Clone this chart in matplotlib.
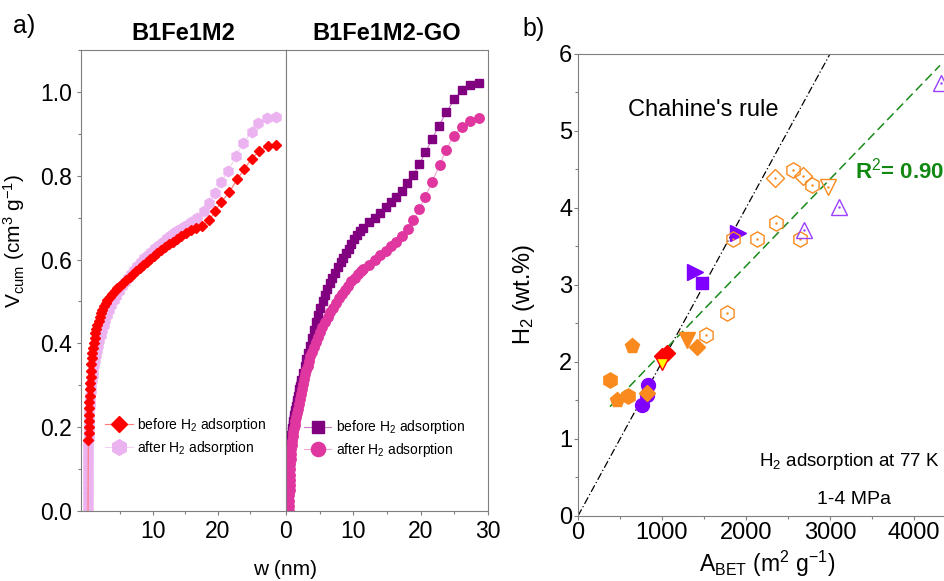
import matplotlib
matplotlib.use("Agg")
import matplotlib.pyplot as plt
from matplotlib.ticker import MultipleLocator, FixedLocator

plt.rcParams['font.family'] = ['Liberation Sans', 'DejaVu Sans']
plt.rcParams['mathtext.fontset'] = 'custom'
plt.rcParams['mathtext.rm'] = 'Liberation Sans'
plt.rcParams['mathtext.it'] = 'Liberation Sans:italic'
plt.rcParams['mathtext.bf'] = 'Liberation Sans:bold'

# ---- pore size distributions (cumulative pore volume vs pore width) ----
w_b1_before = [0.00, 0.05, 0.08, 0.11, 0.14, 0.17, 0.20, 0.23, 0.27, 0.31, 0.35, 0.40, 0.46, 0.52,
               0.60, 0.68, 0.78, 0.90, 1.02, 1.15, 1.30, 1.45, 1.62, 1.80, 2.00, 2.20, 2.45, 2.70,
               3.00, 3.35, 3.70, 4.10, 4.50, 4.95, 5.40, 5.90, 6.40, 6.90, 7.40, 7.95, 8.50, 9.05,
               9.60, 10.15, 10.70, 11.30, 11.90, 12.50, 13.10, 13.75, 14.40, 15.10, 15.80, 16.70,
               17.60, 18.70, 19.60, 20.50, 21.80, 23.00, 24.10, 25.20, 26.40, 27.80, 29.00]
v_b1_before = [0.000, 0.170, 0.185, 0.200, 0.215, 0.230, 0.245, 0.260, 0.275, 0.290, 0.305, 0.320,
               0.335, 0.350, 0.365, 0.378, 0.390, 0.402, 0.413, 0.424, 0.434, 0.444, 0.454, 0.463,
               0.472, 0.480, 0.488, 0.496, 0.503, 0.510, 0.517, 0.524, 0.531, 0.538, 0.545, 0.552,
               0.559, 0.566, 0.573, 0.580, 0.587, 0.594, 0.601, 0.608, 0.615, 0.622, 0.629, 0.636,
               0.643, 0.650, 0.657, 0.664, 0.671, 0.676, 0.679, 0.694, 0.715, 0.737, 0.761, 0.792,
               0.816, 0.840, 0.859, 0.871, 0.873]

w_b1_after = [0.00, 0.00, 0.00, 0.00, 0.00, 0.01, 0.01, 0.01, 0.02, 0.02, 0.03, 0.04, 0.05, 0.06,
              0.08, 0.10, 0.12, 0.15, 0.18, 0.22, 0.27, 0.32, 0.38, 0.45, 0.53, 0.62, 0.72, 0.83,
              0.95, 1.08, 1.22, 1.38, 1.55, 1.73, 1.93, 2.15, 2.40, 2.65, 2.95, 3.25, 3.60, 3.95,
              4.35, 4.75, 5.20, 5.65, 6.10, 6.60, 7.10, 7.60, 8.10, 8.65, 9.20, 9.75, 10.30, 10.90,
              11.50, 12.10, 12.75, 13.40, 14.10, 14.90, 15.80, 16.80, 17.80, 18.70, 19.60, 20.50,
              21.60, 22.80, 23.90, 25.20, 26.20, 27.60, 29.00]
v_b1_after = [0.000, 0.012, 0.025, 0.037, 0.050, 0.062, 0.075, 0.087, 0.100, 0.112, 0.125, 0.137,
              0.150, 0.162, 0.175, 0.187, 0.200, 0.212, 0.225, 0.237, 0.250, 0.262, 0.275, 0.287,
              0.300, 0.312, 0.324, 0.336, 0.348, 0.360, 0.372, 0.384, 0.396, 0.408, 0.420, 0.432,
              0.444, 0.456, 0.468, 0.480, 0.492, 0.503, 0.514, 0.525, 0.536, 0.546, 0.556, 0.566,
              0.576, 0.585, 0.594, 0.603, 0.611, 0.619, 0.627, 0.635, 0.643, 0.651, 0.659, 0.666,
              0.673, 0.681, 0.690, 0.699, 0.715, 0.734, 0.758, 0.785, 0.811, 0.847, 0.878, 0.904,
              0.926, 0.938, 0.940]

w_go_before = [0.20, 0.21, 0.22, 0.235, 0.25, 0.27, 0.30, 0.33, 0.36, 0.40, 0.43, 0.47, 0.51, 0.555,
               0.60, 0.66, 0.72, 0.78, 0.85, 0.92, 1.00, 1.08, 1.15, 1.22, 1.30, 1.40, 1.50, 1.60,
               1.70, 1.80, 1.90, 2.00, 2.10, 2.20, 2.30, 2.55, 2.80, 3.05, 3.30, 3.60, 3.90, 4.20,
               4.50, 4.80, 5.10, 5.45, 5.80, 6.15, 6.50, 6.90, 7.30, 7.70, 8.10, 8.50, 8.90, 9.30,
               9.70, 10.10, 10.50, 11.00, 11.50, 12.40, 13.20, 14.00, 14.90, 15.60, 16.40, 17.20,
               18.00, 18.90, 19.80, 20.70, 21.70, 22.70, 23.80, 25.00, 26.20, 27.40, 28.70]
v_go_before = [0.000, 0.0125, 0.025, 0.0375, 0.050, 0.062, 0.074, 0.085, 0.095, 0.105, 0.115, 0.125,
               0.135, 0.144, 0.153, 0.163, 0.172, 0.181, 0.190, 0.199, 0.208, 0.215, 0.222, 0.228,
               0.234, 0.242, 0.250, 0.258, 0.266, 0.274, 0.282, 0.290, 0.298, 0.306, 0.313, 0.330,
               0.346, 0.362, 0.378, 0.393, 0.412, 0.432, 0.450, 0.468, 0.485, 0.500, 0.515, 0.530,
               0.545, 0.557, 0.569, 0.581, 0.593, 0.604, 0.615, 0.626, 0.637, 0.648, 0.658, 0.667,
               0.676, 0.690, 0.700, 0.712, 0.725, 0.738, 0.750, 0.763, 0.782, 0.801, 0.827, 0.856,
               0.887, 0.919, 0.951, 0.982, 1.005, 1.017, 1.021]

w_go_after = [0.50, 0.505, 0.51, 0.52, 0.535, 0.55, 0.575, 0.60, 0.63, 0.66, 0.70, 0.75, 0.80, 0.86,
              0.93, 1.00, 1.08, 1.17, 1.27, 1.38, 1.50, 1.62, 1.75, 1.90, 2.05, 2.20, 2.35, 2.50,
              2.65, 2.82, 3.00, 3.20, 3.40, 3.60, 3.85, 4.10, 4.40, 4.70, 5.05, 5.40, 5.80, 6.20,
              6.60, 7.00, 7.45, 7.90, 8.35, 8.80, 9.25, 9.70, 10.20, 10.70, 11.10, 11.50, 12.40,
              13.20, 14.00, 14.80, 15.60, 16.40, 17.20, 18.10, 18.90, 19.80, 20.70, 21.70, 22.80,
              23.80, 24.90, 26.20, 27.40, 28.70]
v_go_after = [0.000, 0.0125, 0.025, 0.0375, 0.050, 0.062, 0.074, 0.087, 0.100, 0.112, 0.125, 0.137,
              0.148, 0.158, 0.168, 0.178, 0.188, 0.197, 0.206, 0.215, 0.225, 0.234, 0.244, 0.256,
              0.268, 0.280, 0.292, 0.304, 0.316, 0.326, 0.336, 0.347, 0.358, 0.369, 0.380, 0.391,
              0.403, 0.415, 0.428, 0.440, 0.451, 0.463, 0.474, 0.485, 0.496, 0.507, 0.518, 0.528,
              0.538, 0.548, 0.557, 0.565, 0.572, 0.578, 0.588, 0.600, 0.610, 0.620, 0.632, 0.643,
              0.656, 0.672, 0.694, 0.720, 0.750, 0.785, 0.825, 0.862, 0.895, 0.917, 0.931, 0.937]

# ---- H2 uptake vs BET surface area ----
a_or_pent = [643, 470]
h_or_pent = [2.21, 1.50]
a_or_hex = [381, 590]
h_or_hex = [1.77, 1.56]
a_or_dia = [821, 1417]
h_or_dia = [1.60, 2.19]
a_or_tri = [1298]
h_or_tri = [2.29]
a_pu_circ = [833, 821, 762]
h_pu_circ = [1.70, 1.57, 1.44]
a_pu_rtri = [1905, 1393]
h_pu_rtri = [3.67, 3.17]
a_pu_sq = [1476]
h_pu_sq = [3.03]
a_red = [1000, 1060]
h_red = [2.08, 2.12]
a_yel = [1005]
h_yel = [1.97]
a_open_hex = [1524, 1774, 1845, 2131, 2357, 2643, 2560, 2786]
h_open_hex = [2.35, 2.64, 3.60, 3.60, 3.80, 3.60, 4.49, 4.30]
a_open_dia = [2340, 2679]
h_open_dia = [4.39, 4.41]
a_open_vtri = [2976]
h_open_vtri = [4.27]
a_open_utri = [2690, 3107, 4321]
h_open_utri = [3.71, 4.01, 5.62]

chahine_a = [0, 3000]
chahine_h = [0, 6]
fit_a = [381, 4310]
fit_slope = 0.001128
fit_icpt = 0.99

orange = '#FA8A1E'
violet = '#8000FF'
violet_open = '#9B40FF'
gray = '#7F7F7F'

fig = plt.figure(figsize=(9.45, 5.81), dpi=100)
ax1 = fig.add_axes([0.0857, 0.1205, 0.2169, 0.7935])
ax2 = fig.add_axes([0.3026, 0.1205, 0.2138, 0.7935])
ax3 = fig.add_axes([0.6116, 0.1119, 0.4000, 0.7952])

ax1.plot(w_b1_before, v_b1_before, '-', color='#FF7A7A', lw=0.8, marker='D', ms=5.2,
         mfc='red', mec='red', markevery=range(1, len(w_b1_before)), label='before H$_2$ adsorption')
ax1.plot(w_b1_after, v_b1_after, '-', color='#F4D2F6', lw=0.8, marker='h', ms=7.5,
         mfc='#EBB3EF', mec='#EBB3EF', label='after H$_2$ adsorption', zorder=1)
ax2.plot(w_go_before, v_go_before, '-', color='#C77DC7', lw=0.8, marker='s', ms=5.8,
         mfc='#800080', mec='#800080', label='before H$_2$ adsorption')
ax2.plot(w_go_after, v_go_after, '-', color='#F2A6D6', lw=0.8, marker='o', ms=6.8,
         mfc='#DF379F', mec='#DF379F', label='after H$_2$ adsorption')

for ax in (ax1, ax2):
    ax.set_ylim(0, 1.1)
    for s in ax.spines.values():
        s.set_color(gray)
        s.set_linewidth(0.8)
    ax.tick_params(which='both', direction='out', color=gray, labelsize=16.5, width=0.8)
    ax.tick_params(which='major', length=3)
    ax.tick_params(which='minor', length=2)
    ax.legend(loc='lower left', frameon=False, fontsize=10, handlelength=2.0,
              handletextpad=0.3, labelspacing=0.35, markerscale=1.5, borderaxespad=0)

ax1.set_xlim(-1.08, 30.5)
ax1.xaxis.set_major_locator(FixedLocator([10, 20]))
ax1.xaxis.set_minor_locator(FixedLocator([5, 15, 25]))
ax1.yaxis.set_major_locator(MultipleLocator(0.2))
ax1.yaxis.set_minor_locator(MultipleLocator(0.1))
ax1.set_yticklabels(['%.1f' % t for t in ax1.get_yticks()])
ax1.set_ylabel('V$_{\\mathrm{cum}}$ (cm$^3$ g$^{-1}$)', fontsize=15)
ax1.yaxis.set_label_coords(-0.265, 0.585)
ax1.set_title('B1Fe1M2', fontsize=17, fontweight='bold', pad=7)
ax1.get_legend().set_bbox_to_anchor((0.09, 0.105))

ax2.set_xlim(0, 30)
ax2.xaxis.set_major_locator(MultipleLocator(10))
ax2.xaxis.set_minor_locator(MultipleLocator(5))
ax2.tick_params(axis='y', which='both', left=False, labelleft=False)
ax2.set_title('B1Fe1M2-GO', fontsize=17, fontweight='bold', pad=7)
ax2.get_legend().set_bbox_to_anchor((0.06, 0.10))

fig.text(0.3016, 0.003, 'w (nm)', fontsize=15, ha='center', va='bottom')
fig.text(0.014, 0.955, 'a)', fontsize=18, ha='left', va='center')
fig.text(0.553, 0.950, 'b)', fontsize=18, ha='left', va='center')

# right panel: guide lines
ax3.plot(chahine_a, chahine_h, color='black', ls=(0, (6, 2, 1, 2)), lw=0.9, zorder=1)
fit_h = [fit_icpt + fit_slope * a for a in fit_a]
ax3.plot(fit_a, fit_h, color='#1A8A1A', ls=(0, (6, 3)), lw=1.1, zorder=1)

# filled symbols
ax3.plot(a_or_pent, h_or_pent, 'p', ms=11, color=orange, mec=orange)
ax3.plot(a_or_hex, h_or_hex, 'h', ms=11, color=orange, mec=orange)
ax3.plot(a_pu_circ, h_pu_circ, 'o', ms=10, color=violet, mec=violet)
ax3.plot(a_or_dia, h_or_dia, 'D', ms=8.5, color=orange, mec=orange)
ax3.plot(a_or_tri, h_or_tri, 'v', ms=11, color=orange, mec=orange)
ax3.plot(a_pu_rtri, h_pu_rtri, '>', ms=11, color=violet, mec=violet)
ax3.plot(a_pu_sq, h_pu_sq, 's', ms=9, color=violet, mec=violet)
ax3.plot(a_red, h_red, 'D', ms=8.5, color='red', mec='red')
ax3.plot(a_yel, h_yel, 'v', ms=9, color='#FFFF00', mec='red', mew=1.0)

# open symbols with centre dot
open_sets = [(a_open_hex, h_open_hex, 'h', orange),
             (a_open_dia, h_open_dia, 'D', orange),
             (a_open_vtri, h_open_vtri, 'v', orange),
             (a_open_utri, h_open_utri, '^', violet_open)]
for xs, ys, m, c in open_sets:
    ax3.plot(xs, ys, m, ms=11 if m != 'D' else 9, mfc='none', mec=c, mew=1.0)
    ax3.plot(xs, ys, '.', ms=1.5, color=c)

ax3.set_xlim(0, 4500)
ax3.set_ylim(0, 6)
ax3.xaxis.set_major_locator(MultipleLocator(1000))
ax3.xaxis.set_minor_locator(MultipleLocator(500))
ax3.yaxis.set_major_locator(MultipleLocator(1))
ax3.yaxis.set_minor_locator(MultipleLocator(0.5))
for s in ax3.spines.values():
    s.set_color(gray)
    s.set_linewidth(0.8)
ax3.tick_params(which='both', direction='out', color=gray, labelsize=17, width=0.8, pad=1)
ax3.tick_params(which='major', length=3)
ax3.tick_params(which='minor', length=2)
ax3.set_xlabel('A$_{\\mathrm{BET}}$ (m$^2$ g$^{-1}$)', fontsize=16.5)
ax3.xaxis.set_label_coords(0.5, -0.07)
ax3.set_ylabel('H$_2$ (wt.%)', fontsize=17)
ax3.yaxis.set_label_coords(-0.108, 0.48)

ax3.text(595, 5.27, "Chahine's rule", fontsize=17, va='center')
ax3.text(3300, 4.49, 'R$^2$= 0.90', fontsize=16, fontweight='bold', color='#118811', va='center')
ax3.text(2150, 0.71, 'H$_2$ adsorption at 77 K', fontsize=13.5, va='center')
ax3.text(2845, 0.22, '1-4 MPa', fontsize=14, va='center')

fig.savefig('out.png', dpi=100)
